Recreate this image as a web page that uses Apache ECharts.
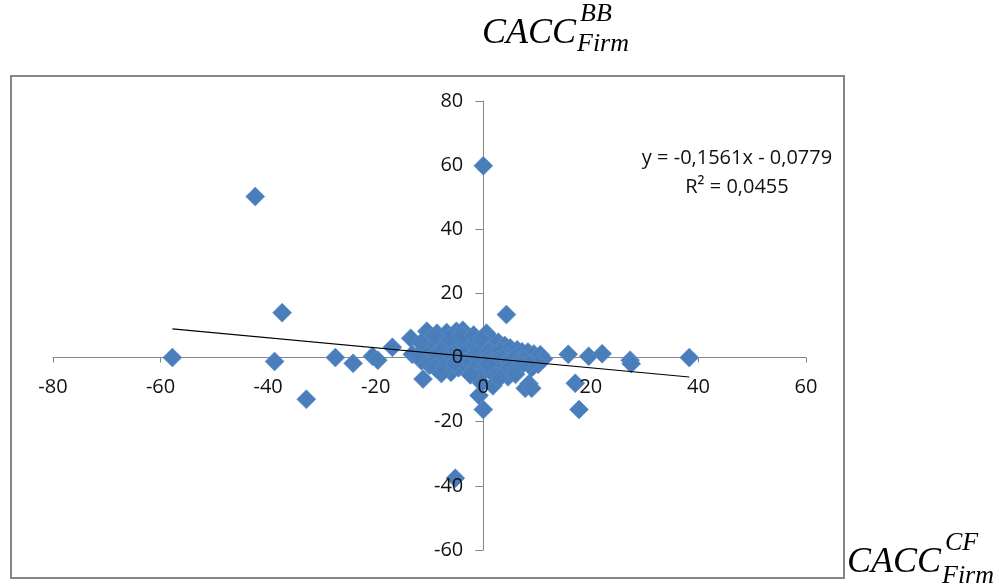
<!DOCTYPE html>
<html>
<head>
<meta charset="utf-8">
<script src="https://cdn.jsdelivr.net/npm/echarts@6/dist/echarts.min.js"></script>
<style>
html,body{margin:0;padding:0;background:#fff;}
#chart{width:999px;height:585px;}
</style>
</head>
<body>
<div id="chart"></div>
<script>
// Scatter points: CACC_Firm^CF (x) vs CACC_Firm^BB (y)
var xValues = [
  -57.8, -42.4, -37.4, -38.8, -32.9, -27.5, -24.2, -20.6, -19.6, -16.9,
  -13.5, -13.2, -11.2, 0.0, -5.2, -0.8, 0.0, -0.3, 4.3, 15.8,
  19.6, 22.1, 27.3, 27.5, 38.3, 17.1, 17.8, 7.8, 8.5, 9.0,
  4.6, -10.5, -8.6, -6.8, -5.0, -3.8, -2.8, 0.6, 1.4, 2.8,
  4.0, 5.0, 6.3, 7.2, 8.3, 9.4, 10.6, 11.2, 10.2, 9.0,
  -9.8, -8.0, -6.6, -5.6, -4.5, -3.2, -2.0, -1.2, -0.5, 0.3,
  1.0, 2.0, 3.2, -10.6, -9.2, -8.2, -7.4, -6.0, -4.8, -3.6,
  -2.6, -1.6, -0.8, 0.6, 1.6, 2.6, 3.6, 4.6, 5.6, 6.6,
  7.6, 8.4, -10.0, -8.8, -7.2, -6.0, -4.6, -3.0, -1.8, -0.6,
  0.4, 1.4, 2.6, 3.6, 5.0, 6.2, 7.0, -1.0, 1.8, 2.4,
  -11.5, -12.2, -7.8, -5.4, -2.4, 0.8, 3.0, 6.0, -6.4, -4.0,
  -1.8, -0.4, -9.0, -11.6
];
var yValues = [
  0.0, 50.2, 14.0, -1.2, -13.0, 0.0, -1.8, 0.4, -0.8, 3.2,
  6.0, 1.0, -6.7, 59.8, -37.6, -11.8, -16.2, -8.0, 13.4, 1.0,
  0.4, 1.2, -0.8, -1.9, 0.0, -8.0, -16.2, -9.6, -8.2, -9.6,
  -6.0, 8.2, 7.6, 7.8, 8.2, 8.5, 6.5, 7.6, 5.9, 4.8,
  3.8, 3.0, 2.4, 1.8, 1.7, 1.1, 0.9, -0.4, -2.1, -3.2,
  4.8, 5.2, 3.8, 2.8, 5.6, 4.2, 3.0, 5.0, 2.2, 3.5,
  1.8, 1.0, 2.0, 1.2, -0.4, 1.6, -1.0, 0.6, -0.6, 1.4,
  -0.4, 0.8, -1.4, -0.6, -1.8, -0.8, -0.2, -1.2, -0.4, -1.4,
  -0.6, -2.0, -2.4, -3.4, -2.8, -4.6, -3.2, -2.6, -3.6, -4.8,
  -3.0, -4.4, -3.4, -4.8, -3.0, -3.6, -2.6, -6.2, -8.8, -6.0,
  -1.0, 0.6, -5.0, -1.8, -5.4, -2.0, -6.4, -5.2, 6.0, 6.8,
  7.0, 5.8, 6.8, 4.6
];
// Linear trendline endpoints (y = -0,1561x - 0,0779)
var trendX = [-57.8, 38.3];
var trendY = [8.95, -6.06];
var xTicks = [-80, -60, -40, -20, 0, 20, 40, 60];
var yTicks = [-60, -40, -20, 0, 20, 40, 60, 80];
var equationText = 'y = -0,1561x - 0,0779';
var r2Text = 'R\u00b2 = 0,0455';

var points = xValues.map(function (x, i) { return [x, yValues[i]]; });
var trend = trendX.map(function (x, i) { return [x, trendY[i]]; });

var gridW = 753, gridH = 449;
var xMin = xTicks[0], xMax = xTicks[xTicks.length - 1];
var yMin = yTicks[0], yMax = yTicks[yTicks.length - 1];
// shift axes so they cross at zero (labels follow the lines)
var yAxisOffset = -gridW * (0 - xMin) / (xMax - xMin);
var xAxisOffset = -gridH * (0 - yMin) / (yMax - yMin);

var chart = echarts.init(document.getElementById('chart'));
var labelFont = { fontFamily: 'Open Sans', fontSize: 20, color: '#111' };
var serif = 'Liberation Serif';

function makeAxis(kind, withLine) {
  var isX = kind === 'x';
  return {
    type: 'value',
    position: isX ? 'bottom' : 'left',
    min: isX ? xMin : yMin, max: isX ? xMax : yMax, interval: 20,
    offset: isX ? xAxisOffset : yAxisOffset,
    z: withLine ? 0 : 10,
    axisLine: { show: withLine, onZero: false, lineStyle: { color: '#868686', width: 1 } },
    axisTick: { show: withLine, length: isX ? 5 : 8, lineStyle: { color: '#868686' } },
    axisLabel: Object.assign({ show: !withLine, margin: 20 }, labelFont),
    splitLine: { show: false }
  };
}

chart.setOption({
  animation: false,
  backgroundColor: '#ffffff',
  grid: { left: 53, top: 101, width: gridW, height: gridH, containLabel: false },
  xAxis: [makeAxis('x', true), makeAxis('x', false)],
  yAxis: [makeAxis('y', true), makeAxis('y', false)],
  series: [
    {
      type: 'scatter',
      data: points,
      symbol: 'diamond',
      symbolSize: 19,
      itemStyle: { color: '#4A7EBB', borderColor: '#5E90CC', borderWidth: 0.6, opacity: 1 },
      z: 2
    },
    {
      type: 'line',
      data: trend,
      symbol: 'none',
      lineStyle: { color: '#000', width: 1.2 },
      silent: true,
      z: 3
    }
  ],
  graphic: [
    { type: 'rect', shape: { x: 11, y: 76, width: 833, height: 502 },
      style: { fill: 'none', stroke: '#868686', lineWidth: 2 }, z: -1, silent: true },
    { type: 'text', x: 737, y: 158, style: { text: equationText, font: '20px "Open Sans"', fill: '#111', align: 'center', verticalAlign: 'middle' } },
    { type: 'text', x: 737, y: 187, style: { text: r2Text, font: '20px "Open Sans"', fill: '#111', align: 'center', verticalAlign: 'middle' } },
    // Title: CACC^BB_Firm
    { type: 'text', x: 482, y: 34, style: { text: 'CACC', font: 'italic 36px "' + serif + '"', fill: '#000', align: 'left', verticalAlign: 'middle' } },
    { type: 'text', x: 580, y: 14, style: { text: 'BB', font: 'italic 26px "' + serif + '"', fill: '#000', align: 'left', verticalAlign: 'middle' } },
    { type: 'text', x: 577, y: 44, style: { text: 'Firm', font: 'italic 26px "' + serif + '"', fill: '#000', align: 'left', verticalAlign: 'middle' } },
    // Axis caption: CACC^CF_Firm
    { type: 'text', x: 847, y: 563, style: { text: 'CACC', font: 'italic 36px "' + serif + '"', fill: '#000', align: 'left', verticalAlign: 'middle' } },
    { type: 'text', x: 945, y: 543, style: { text: 'CF', font: 'italic 26px "' + serif + '"', fill: '#000', align: 'left', verticalAlign: 'middle' } },
    { type: 'text', x: 942, y: 576, style: { text: 'Firm', font: 'italic 26px "' + serif + '"', fill: '#000', align: 'left', verticalAlign: 'middle' } }
  ]
});
</script>
</body>
</html>
